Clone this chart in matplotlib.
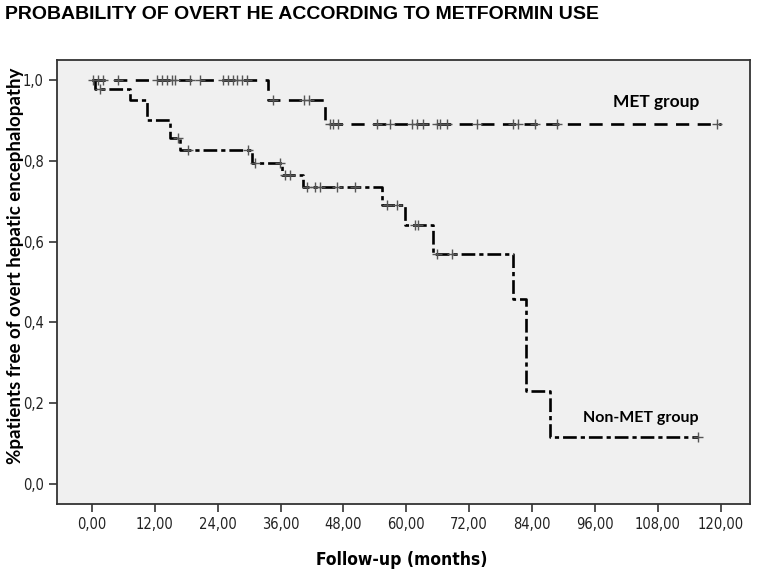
import numpy as np
import matplotlib
matplotlib.use("Agg")
import matplotlib.pyplot as plt
from matplotlib import font_manager

# Kaplan-Meier steps (months, survival)
met_times = [0.0, 33.6, 44.5, 120.0]
met_surv = [1.0, 0.95, 0.89, 0.89]
met_censor = [0.2, 1.1, 2.1, 5.0, 12.4, 13.4, 14.3, 15.3, 15.8, 18.7, 20.6,
              25.0, 26.0, 26.9, 27.7, 28.6, 29.6, 34.5, 40.5, 41.5,
              45.4, 46.0, 46.9, 54.4, 56.9, 61.1, 62.0, 63.2, 65.8, 66.4,
              67.7, 73.5, 80.3, 81.3, 84.5, 88.7, 119.3]

non_times = [0.0, 0.5, 7.3, 10.5, 14.9, 16.8, 30.5, 36.3, 40.3, 55.3, 59.7,
             65.1, 80.3, 82.8, 87.4, 115.7]
non_surv = [1.0, 0.978, 0.95, 0.90, 0.856, 0.826, 0.795, 0.765, 0.735, 0.69,
            0.641, 0.569, 0.458, 0.229, 0.115, 0.115]
non_censor = [1.5, 16.5, 18.3, 29.8, 31.1, 35.9, 36.8, 37.8, 41.0, 42.6, 43.5,
              46.8, 50.2, 56.3, 58.2, 61.6, 62.2, 65.8, 68.7, 115.7]

x_ticks = [0, 12, 24, 36, 48, 60, 72, 84, 96, 108, 120]
x_labels = ["0,00", "12,00", "24,00", "36,00", "48,00", "60,00", "72,00",
            "84,00", "96,00", "108,00", "120,00"]
y_ticks = [0.0, 0.2, 0.4, 0.6, 0.8, 1.0]
y_labels = ["0,0", "0,2", "0,4", "0,6", "0,8", "1,0"]

# look for a condensed face (the original uses Arial Narrow style labels)
cond_reg, cond_bold = None, None
for f in font_manager.fontManager.ttflist:
    fn = f.fname.lower()
    if "narrow" in fn or "condensed" in fn:
        if f.weight in (700, "bold") and "oblique" not in fn and "italic" not in fn:
            cond_bold = cond_bold or f.fname
        elif f.style == "normal" and f.weight in (400, "normal", "regular"):
            cond_reg = cond_reg or f.fname


def fp(path, size, fallback_weight="normal"):
    if path:
        return font_manager.FontProperties(fname=path, size=size)
    return font_manager.FontProperties(family="Liberation Sans", size=size,
                                       weight=fallback_weight)


def surv_at(times, surv, t):
    idx = np.searchsorted(times, t, side="right") - 1
    return np.array(surv)[idx]


fig = plt.figure(figsize=(7.59, 5.69), dpi=100)
ax = fig.add_axes([0.075, 0.114, 0.913, 0.781])
ax.set_facecolor("#f0f0f0")

ax.step(met_times, met_surv, where="post", color="black", lw=1.9,
        linestyle=(0, (5, 3.2)))
ax.step(non_times, non_surv, where="post", color="black", lw=1.9,
        linestyle=(0, (5.2, 1.5, 1.6, 1.5)))

ax.plot(met_censor, surv_at(met_times, met_surv, met_censor), "+",
        color="#555555", ms=6.5, mew=1.0)
ax.plot(non_censor, surv_at(non_times, non_surv, non_censor), "+",
        color="#555555", ms=6.5, mew=1.0)

ax.set_xlim(-6.7, 125.6)
ax.set_ylim(-0.05, 1.05)
ax.set_xticks(x_ticks)
ax.set_xticklabels(x_labels, fontproperties=fp(cond_reg, 10.5), color="#222222")
ax.set_yticks(y_ticks)
ax.set_yticklabels(y_labels, fontproperties=fp(cond_reg, 10.5), color="#222222")
ax.tick_params(direction="out", length=6, width=1.2, color="#333333")
for s in ax.spines.values():
    s.set_color("#333333")
    s.set_linewidth(1.3)

ax.text(99.4, 0.946, "MET group", fontfamily="Lato", fontweight="bold",
        fontsize=12.5, va="center", ha="left")
ax.text(93.8, 0.163, "Non-MET group", fontfamily="Lato", fontweight="bold",
        fontsize=11.5, va="center", ha="left")

ax.set_xlabel("Follow-up (months)", fontproperties=fp(cond_bold, 12.5, "bold"))
ax.xaxis.set_label_coords(0.497, -0.106)
ax.set_ylabel("%patients free of overt hepatic encephalopathy",
              fontfamily="Lato", fontweight="bold", fontsize=13.5)
ax.yaxis.set_label_coords(-0.047, 0.536)

fig.text(0.007, 0.974, "PROBABILITY OF OVERT HE ACCORDING TO METFORMIN USE",
         fontfamily="Liberation Sans", fontweight="bold", fontsize=14,
         va="center", ha="left")

fig.savefig("out.png", dpi=100)
